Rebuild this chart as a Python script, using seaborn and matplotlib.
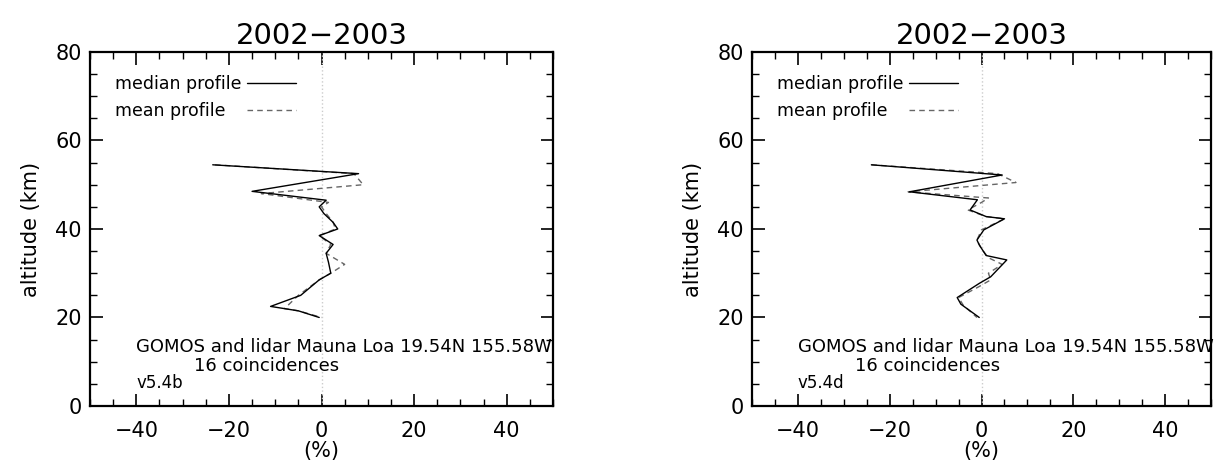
import matplotlib
matplotlib.use("Agg")
import matplotlib.pyplot as plt
from matplotlib.ticker import MultipleLocator
import numpy as np
import pandas as pd
import seaborn as sns

# GOMOS minus lidar relative ozone differences (%) versus altitude (km)
# Version 5.4b
b_median_alt = [54.5, 52.5, 48.5, 46.5, 45.0, 43.5, 41.5, 40.0, 38.5, 36.5, 34.5, 32.5, 30.0, 28.5, 25.0, 22.5, 21.5, 20.0]
b_median_val = [-23.5, 8.0, -15.0, 1.0, -0.5, 0.5, 2.5, 3.5, -0.5, 2.5, 1.0, 1.5, 2.0, -0.5, -4.5, -11.0, -5.0, -0.5]
b_mean_alt = [54.5, 52.5, 50.0, 48.0, 46.0, 45.0, 43.5, 41.5, 40.0, 38.5, 36.5, 34.5, 32.0, 30.0, 28.5, 25.0, 22.0, 21.5, 20.0]
b_mean_val = [-23.0, 7.0, 9.0, -13.0, 1.5, 0.0, 1.0, 2.5, 3.0, -0.5, 2.0, 1.0, 5.0, 2.0, -0.5, -5.0, -8.0, -5.0, 0.0]

# Version 5.4d
d_median_alt = [54.5, 52.2, 48.4, 46.6, 44.3, 42.8, 42.3, 39.8, 37.5, 36.4, 34.0, 33.0, 29.2, 27.7, 24.5, 23.0, 20.0]
d_median_val = [-24.0, 4.5, -15.7, -0.9, -2.5, 1.0, 5.0, 0.5, -1.0, -0.5, 1.0, 5.5, 2.0, -0.5, -5.3, -4.5, -0.5]
d_mean_alt = [54.5, 52.5, 50.5, 48.4, 47.0, 46.0, 44.3, 42.8, 42.3, 39.8, 37.5, 35.5, 33.5, 32.0, 30.0, 28.5, 27.0, 24.5, 22.8, 20.0]
d_mean_val = [-24.0, 3.5, 7.5, -16.0, 1.5, 0.0, -3.0, 1.0, 5.0, 0.0, -1.0, 0.0, 1.5, 4.5, 1.5, 2.0, -0.5, -5.0, -4.0, -1.0]

panel_titles = ["2002\u22122003", "2002\u22122003"]
versions = ["v5.4b", "v5.4d"]
station_text = "GOMOS and lidar Mauna Loa 19.54N 155.58W"
count_text = "16 coincidences"
x_ticks = [-40, -20, 0, 20, 40]
y_ticks = [0, 20, 40, 60, 80]

sns.set_theme(style="white")
plt.rcParams["font.family"] = ["DejaVu Sans"]
plt.rcParams.update({
    "text.color": "black",
    "axes.labelcolor": "black",
    "xtick.color": "black",
    "ytick.color": "black",
    "axes.edgecolor": "black",
})

fig = plt.figure(figsize=(12.3, 4.66), dpi=100)
fig.patch.set_facecolor("white")
positions = [[0.0732, 0.1288, 0.3764, 0.7597], [0.6114, 0.1288, 0.3732, 0.7597]]

panels = [
    (b_median_alt, b_median_val, b_mean_alt, b_mean_val),
    (d_median_alt, d_median_val, d_mean_alt, d_mean_val),
]

for pos, (med_a, med_v, mean_a, mean_v), title, ver in zip(positions, panels, panel_titles, versions):
    ax = fig.add_axes(pos)
    ax.set_facecolor("white")
    ax.axvline(0, color="0.8", lw=1.0, ls=":", zorder=1)

    med = pd.DataFrame({"alt": med_a, "diff": med_v})
    mean = pd.DataFrame({"alt": mean_a, "diff": mean_v})
    sns.lineplot(data=med, x="diff", y="alt", sort=False, orient="y", estimator=None,
                 color="black", lw=1.0, label="median profile", ax=ax, zorder=3)
    sns.lineplot(data=mean, x="diff", y="alt", sort=False, orient="y", estimator=None,
                 color="0.4", lw=1.0, ls=(0, (4, 3)), label="mean profile", ax=ax, zorder=2)

    ax.set_xlim(-50, 50)
    ax.set_ylim(0, 80)
    ax.set_xticks(x_ticks)
    ax.set_yticks(y_ticks)
    ax.xaxis.set_minor_locator(MultipleLocator(5))
    ax.yaxis.set_minor_locator(MultipleLocator(5))
    ax.tick_params(which="both", direction="in", top=True, right=True, bottom=True, left=True,
                   color="black", labelcolor="black")
    ax.tick_params(which="major", length=9, width=1.2, labelsize=15)
    ax.tick_params(which="minor", length=5, width=1.0)
    ax.tick_params(axis="x", which="major", pad=11)
    ax.tick_params(axis="y", which="major", pad=6)
    for s in ax.spines.values():
        s.set_color("black")
        s.set_linewidth(1.6)

    ax.set_xlabel("(%)", fontsize=15, labelpad=0, color="black")
    ax.set_ylabel("altitude (km)", fontsize=15, labelpad=10, color="black")
    ax.set_title(title, fontsize=21, pad=6, color="black")

    ax.text(0.10, 13.3, station_text, transform=ax.get_yaxis_transform(), fontsize=13,
            va="center", ha="left", clip_on=False)
    ax.text(0.225, 9.1, count_text, transform=ax.get_yaxis_transform(), fontsize=13,
            va="center", ha="left")
    ax.text(0.10, 5.2, ver, transform=ax.get_yaxis_transform(), fontsize=12,
            va="center", ha="left")

    leg = ax.legend(loc="upper left", bbox_to_anchor=(0.04, 0.955), frameon=False,
                    markerfirst=False, fontsize=12.5, handlelength=2.8, handletextpad=0.3,
                    labelspacing=0.55, borderaxespad=0)
    for t in leg.get_texts():
        t.set_color("black")
    # left-align the labels while keeping the line samples in one column
    fig.canvas.draw()
    renderer = fig.canvas.get_renderer()
    widths = [t.get_window_extent(renderer).width for t in leg.get_texts()]
    try:
        column = leg._legend_handle_box.get_children()[0]
        column.align = "left"
        for row, w in zip(column.get_children(), widths):
            row.sep += (max(widths) - w) * 72.0 / fig.dpi
    except Exception:
        pass

fig.savefig("out.png", dpi=100, facecolor="white")
